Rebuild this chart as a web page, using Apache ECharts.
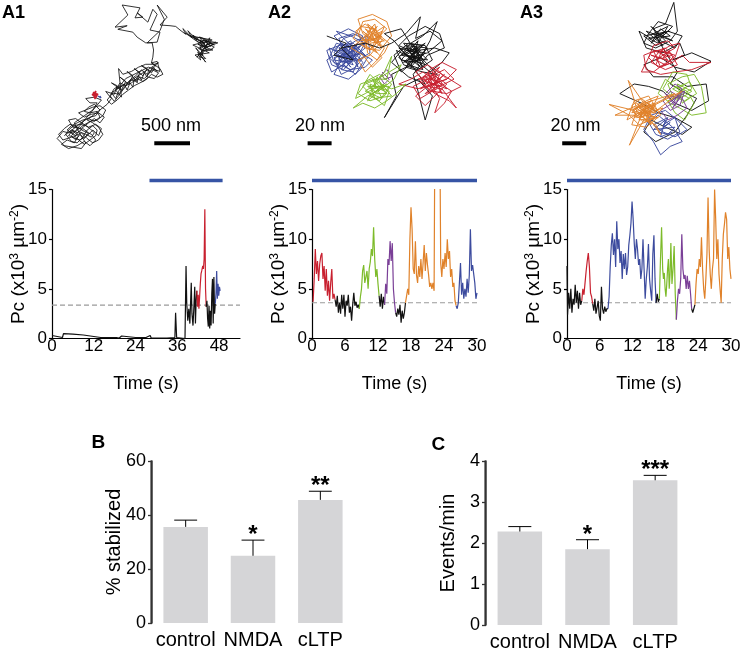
<!DOCTYPE html>
<html><head><meta charset="utf-8">
<script src="https://cdn.jsdelivr.net/npm/echarts@6.0.0/dist/echarts.min.js"></script>
<style>html,body{margin:0;padding:0;background:#fff}#c{width:743px;height:649px}</style>
</head><body><div id="c"></div>
<script>
// ================= DATA =================
// ---- A1 trajectory, positions in nm ----
const a1TrajBlack = [[900,1900],[1000,1820],[1100,1900],[1040,2000],[940,1960],[860,2020],[960,2080],[1080,2040],[1180,1980],[1260,2040],[1340,1960],[1280,1880],[1180,1840],[1080,1780],[980,1740],[900,1800],[820,1880],[880,1960],[1000,1920],[1120,1960],[1220,1900],[1300,1820],[1380,1900],[1420,1800],[1340,1740],[1240,1780],[1140,1720],[1060,1660],[960,1680],[1020,1780],[1140,1800],[1240,1720],[1320,1660],[1400,1720],[1460,1640],[1380,1580],[1280,1600],[1180,1640],[1100,1580],[1200,1540],[1300,1500],[1400,1480],[1480,1540],[1440,1620],[1360,1680],[1260,1700],[1160,1760],[1060,1840],[960,1860],[880,1840],[800,1940],[900,2040],[1020,2060],[1140,2080],[1200,2000],[1120,1880],[1040,1720],[1180,1620],[1300,1540],[1360,1440],[1260,1440],[1200,1380],[1320,1360],[1420,1400],
[1000,1900],[1060,1960],[1120,1880],[1180,1940],[1240,1860],[1160,1800],[1080,1860],[1020,1820],[960,1900],[1040,1920],[1100,1840],[1200,1880],[1280,1920],[1320,1860],[1260,1800],[1200,1760],[1120,1740],[1040,1760],[980,1800],[920,1880],[1000,1980],[1080,2000],[1160,1920],[1220,1820],[1300,1760],[1360,1820],[1340,1900],[1260,1960],[1180,2020],[1100,1960],[1020,1880],[940,1820],[1000,1760],[1080,1720],[1160,1680],[1240,1660],[1320,1700],[1400,1640],[1360,1560],[1260,1580],[1180,1560],[1240,1500],[1320,1460],[1400,1540],[1340,1620],[1260,1640],[1160,1700],[1060,1780],[980,1840],[1060,1900],[1140,1860],[1220,1940],[1300,2000],[1380,1960],[1440,1880],[1380,1780],[1300,1720],[1220,1680],[1500,1460],
[1560,1380],[1480,1280],[1600,1320],[1640,1200],[1560,1160],[1700,1260],[1760,1140],[1680,1080],[1800,1180],[1860,1060],[1780,1000],[1900,1120],[1960,1020],[1880,960],[2000,1060],[2060,960],[1980,920],[2100,1000],[2180,920],[2120,880],[2240,960],[2280,1040],[2200,1080],[2120,1040],[2040,1120],[1960,1160],[1880,1200],[1800,1260],[1720,1320],[1640,1400],[1560,1460],[1500,1400],[1580,1300],[1660,1320],[1740,1220],[1820,1120],[1900,1060],[1980,980],[2060,1040],[2140,980],[2220,1020],[2160,1100],[2080,1080],[2000,1140],[1920,1100],[1840,1160],[1760,1200],[1680,1160],[1620,1260],[1700,1360],[1660,960],[1720,1040],[1840,1000],[1940,940],[2040,900],[2160,900],[2220,880],
[1560,1300],[1620,1380],[1660,1280],[1700,1200],[1640,1240],[1740,1180],[1780,1260],[1820,1160],[1860,1220],[1880,1100],[1920,1160],[1940,1060],[1980,1120],[2020,1020],[2060,1080],[2080,980],[2120,1020],[2160,960],[2200,1000],[2140,940],[2080,1040],[2020,1100],[1960,1080],[1900,1140],[1840,1120],[1780,1180],[1720,1260],[1660,1340],[1600,1420],[1540,1340],[1600,1240],[1680,1200],[1760,1100],[1840,1060],[1920,1020],[2000,980],[2080,940],[2180,980],[2240,1000],
[2200,860],[2120,880],[2140,800],[2150,700],[2130,600],
[2040,600],[1920,520],[1860,450],[1650,410],[1780,360],[1610,380],[1790,210],[1710,70],[1960,110],[1890,250],[2000,240],[1920,180],[2070,310],[2140,130],[2200,200],[2100,420],[2240,450],[2200,590],[2060,600],[2240,430],[2300,270],[2200,70],[2340,240],[2240,350],[2380,360],[2460,370],
[2520,420],[2600,480],[2560,400],[2690,530],[2630,430],[2760,560],[2700,490],[2870,620],[2790,520],[3000,630],[2880,570],[3050,600],[2870,670],[2940,530],[2800,640],[2840,780],[2740,670],[2880,870],[2770,730],[2810,840],[2730,770],[2930,740],[2700,630],[2970,560],[2660,500],[2830,590],[2590,460],[2730,560],[2910,660],[2770,620],[2980,700],[2840,710],[2760,800],[2900,620],[3020,590],[2940,650],[2860,560],[2800,600],[2900,700],[2820,660],[2960,600],[2880,640],
[2800,560],[2860,600],[2920,580],[2980,620],[2900,660],[2840,640],[2780,680],[2860,720],[2820,760],[2880,820],[2800,800],[2860,680],[2940,700],[3000,660],[2920,620],[2860,560],[2780,600],[2720,540],[2800,520],[2900,560]];
const a1TrajRed = [[1302,1288],[1358,1344],[1316,1372],[1344,1274],[1288,1330],[1372,1316],[1330,1386],[1302,1302],[1358,1358],[1330,1302],[1310,1350],[1350,1300]];
const a1TrajBlue = [[1372,1344],[1400,1358],[1386,1330],[1414,1372],[1400,1344]];
const a1ScaleBar = [[2160,2006],[2660,2006]]; // 500 nm

// ---- A2 trajectory, positions in nm ----
const a2TrajBlue = [[80,45],[92,38],[84,52],[70,44],[78,32],[90,28],[96,40],[86,48],[74,56],[66,48],[72,36],[84,40],[94,52],[88,62],[78,54],[68,60],[64,50],[76,42],[88,34],[98,30],[100,44],[90,50],[80,40],[70,30],[82,24],[94,30],[86,42],[76,50],[70,62],[82,66],[92,58],[98,48],[88,42],[78,46],[66,40],[70,52],[84,58],[96,56],[102,50],[92,44],[80,34],[72,26],[84,30],[96,36],[90,46],[78,58],[68,54],[64,42],[74,38],[86,36],[96,46],[88,56],[76,62],[70,48],[82,44],[90,40],[98,34],[86,28],[74,32],[80,48],
[76,44],[84,38],[80,50],[88,46],[78,40],[86,54],[74,50],[82,36],[90,42],[80,56],[72,46],[84,48],[92,50],[78,52],[86,40],[76,36],[70,42],[82,42],[90,56],[84,34],[74,40],[88,50],[80,44],[72,54],[86,46],[94,44],[78,48],[84,56],[76,46],[88,38],[82,52],[70,50],[80,38],[92,46],[86,60],[76,58],[82,46],[90,36],[74,48],[84,44]];
const a2TrajOrange = [[100,30],[112,22],[106,36],[94,28],[90,16],[102,12],[114,18],[118,30],[108,42],[96,40],[86,32],[92,22],[104,24],[110,34],[100,46],[90,50],[96,60],[104,52],[112,44],[116,36],[106,28],[96,20],[88,26],[98,36],[108,30],[114,24],[104,16],[94,18],[90,30],[100,38],[110,48],[102,56],[94,46],[84,40],[92,34],[104,32],[112,40],[106,50],[98,44],[96,30],
[100,28],[106,22],[98,34],[110,30],[102,40],[94,32],[104,20],[108,38],[96,24],[112,34],[100,36],[106,44],[96,38],[102,26],[110,40],[94,26],[104,34],[98,20],[108,28],[100,42],[92,36],[106,32],[102,22],[96,34],[110,26],[104,38]];
const a2TrajBlack = [[64,30],[80,36],[70,46],[86,50],[76,40],[96,36],[108,40],[118,36],[130,28],[142,14],[138,32],[150,26],[160,34],[148,44],[134,48],[122,42],[128,54],[140,58],[152,50],[146,38],[132,36],[120,46],[126,60],[138,50],[150,60],[160,52],[166,44],[154,40],[140,42],[128,40],[118,52],[132,64],[146,70],[136,56],[124,48],[134,36],[144,30],[156,18],[150,34],[142,48],[130,46],[120,34],[112,28],[126,24],[136,40],[148,54],[156,62],[144,60],[130,56],[118,62],[122,80],[112,98],[128,72],[140,66],[152,80],[146,100],[140,76],[136,62],[148,46],[162,40],[158,28],[146,22],[132,30],[124,38],[138,44],
[134,46],[140,40],[130,52],[144,50],[136,38],[128,44],[142,56],[132,42],[146,44],[138,52],[126,50],[140,34],[134,56],[148,40],[130,38],[142,46],[136,50],[124,40],[138,44],[146,54],[132,48],[140,52],[128,36],[144,38],[136,46],[130,56],[142,42],[134,36],[148,50],[126,46],[138,40],[144,58],[132,54],[140,46],[128,52],[146,36],[136,42],[130,46],[142,50],[134,44]];
const a2TrajPurple = [[110,60],[116,66],[112,70],[108,64],[114,58],[118,64],[112,66],[110,62]];
const a2TrajRed = [[150,64],[162,58],[170,66],[158,72],[146,68],[138,60],[148,54],[160,62],[176,72],[164,78],[152,76],[142,82],[136,72],[148,66],[158,82],[154,94],[162,86],[168,76],[156,68],[144,60],[134,66],[124,70],[140,74],[152,70],[164,66],[172,58],[160,52],[150,58],[142,68],[154,78],[166,84],[172,90],[160,74],[148,72],[138,80],[146,88],[156,78],[164,70],[152,62],[140,66],
[150,66],[158,62],[154,72],[146,64],[160,70],[150,76],[144,70],[156,58],[164,66],[152,70],[148,60],[160,78],[154,64],[142,74],[158,68],[150,72],[162,62],[146,78],[156,74],[152,60],[164,74],[148,68],[158,56],[144,64],[154,78]];
const a2TrajGreen = [[104,76],[96,68],[108,62],[118,70],[112,80],[100,84],[90,78],[96,70],[106,66],[116,60],[126,54],[120,66],[110,74],[98,80],[86,90],[94,86],[104,90],[114,84],[122,78],[130,70],[118,74],[108,70],[100,62],[94,72],[102,80],[112,88],[116,76],[106,72],[96,78],[88,82],[92,70],[104,66],[114,66],[118,47],[112,60],[104,70],
[104,74],[112,70],[100,80],[108,84],[116,72],[98,72],[106,78],[114,78],[102,66],[110,82],[96,76],[108,68],[118,80],[104,82],[100,70],[112,76],[106,64],[98,84],[114,70],[102,78]];
const a2ScaleBar = [[48,119.4],[68,119.4]]; // 20 nm

// ---- A3 trajectory, positions in nm ----
const a3TrajBlack = [[140,30],[148,22],[136,18],[128,28],[124,36],[134,40],[146,34],[152,26],[149,2],[142,20],[132,24],[138,34],[150,40],[156,30],[144,26],[130,32],[120,26],[126,40],[140,44],[154,36],[158,46],[148,50],[164,44],[180,51],[166,60],[150,56],[138,48],[124,54],[132,64],[148,64],[160,72],[176,70],[178,84],[164,92],[150,86],[140,76],[128,72],[116,70],[104,78],[122,86],[136,94],[150,98],[164,106],[156,112],[142,106],[130,100],[124,110],[134,118],[150,110],[160,96],[168,82],[156,76],[146,70],[152,60],
[134,30],[142,26],[130,36],[138,24],[146,30],[128,32],[136,36],[144,22],[132,28],[140,38],[126,26],[148,34],[136,28],[130,22],[142,34],[134,38],[124,30],[146,26]];
const a3TrajRed = [[140,46],[150,40],[144,34],[132,38],[128,48],[136,56],[148,52],[156,46],[162,52],[180,52],[164,58],[150,60],[138,62],[126,58],[124,46],[134,42],[146,44],[152,54],[142,58],[130,52],[136,44],[146,38],[154,36],[150,48],[140,54],[132,60],[122,60],[130,44],[142,40],[148,46],
[140,48],[146,42],[134,50],[142,54],[150,46],[136,42],[144,50],[130,46],[148,52],[138,56],[132,42],[146,48],[140,40],[134,54]];
const a3TrajGreen = [[152,74],[162,68],[168,78],[158,84],[148,80],[144,70],[156,64],[166,62],[172,72],[176,94],[164,96],[154,90],[146,86],[136,78],[142,66],[150,72],[160,76],[166,86],[158,100],[150,94],[144,84],[154,80],[164,74],[160,62],[148,60],[140,74],[152,84],
[154,76],[160,72],[150,82],[158,80],[164,76],[152,70],[156,86],[162,82],[148,74],[158,70]];
const a3TrajPurple = [[150,80],[158,76],[154,88],[146,92],[140,84],[146,76],[156,82],[160,90],[152,96],[144,100],[138,92],[148,86],[156,74],[150,70],[142,78],[150,88],
[150,84],[146,80],[154,82],[148,90],[156,78],[144,86]];
const a3TrajBlue = [[140,104],[150,98],[154,110],[144,116],[134,112],[128,102],[136,96],[148,106],[156,118],[146,122],[138,129],[132,118],[124,108],[130,96],[142,92],[152,100],[160,108],[150,114],[140,110],[132,104],[144,98],
[140,106],[146,102],[136,110],[144,112],[150,106],[132,108],[142,100],[138,114],[148,110]];
const a3TrajOrange = [[124,90],[132,86],[128,96],[118,98],[114,88],[122,82],[134,92],[140,90],[130,100],[120,104],[112,96],[95,87],[116,92],[126,84],[136,80],[130,92],[122,96],[112,121],[124,100],[134,104],[138,112],[128,98],[118,90],[111,67],[124,86],[150,78],[130,88],[120,94],[110,100],[116,84],[128,80],[138,96],[126,106],[114,104],[120,86],[132,94],[156,76],[128,90],[116,96],[100,96],[118,88],[126,94],[134,98],[124,102],[114,92],[122,88],[130,84],[120,98],[126,90],
[124,92],[130,96],[120,90],[128,86],[134,94],[118,94],[126,100],[132,90],[122,86],[128,102],[116,90],[130,88],[124,96],[136,98],[120,100],[126,88],[132,100],[118,86],[128,94],[122,98],[134,88],[116,98],[126,92],[130,104],[120,94],[136,92],[124,84],[114,94],[128,90],[122,92]];
const a3ScaleBar = [[56,119.4],[76,119.4]]; // 20 nm

// ---- Time series: [time (s), Pc (x10^3 µm^-2)] ----
const a1TsBlack1 = [[0,0.3],[0.5,0.1],[3,0.1],[3.3,0.5],[6,0.45],[9,0.35],[12,0.2],[14,0.1],[15.5,0.1],[16,0.3],[16.5,0.1],[18.5,0.1],[19,0.3],[19.3,0.05],[20,0.25],[20.4,0.05],[24,0.1],[27,0.1],[28.2,0.3],[28.5,0.05],[33,0.05],[35.3,0.1],[35.5,2.6],[35.8,0.1],[36,0],[38.2,0],[38.5,7.3],[38.7,3.6],[39,1.8],[39.3,3],[39.6,1.5],[40,5.6],[40.2,2.5],[40.5,1.3],[40.8,3.5],[41,5.2],[41.2,1.5],[41.4,3.8],[41.6,4.8]];
const a1TsRed = [[41.6,4.8],[41.8,3.2],[42,4.4],[42.2,3],[42.4,4.2],[42.6,5.5],[42.8,6.5],[43,6.8],[43.3,7.3],[43.5,7],[43.7,8],[43.9,13],[44.1,5],[44.3,3.2]];
const a1TsBlack2 = [[44.3,3.2],[44.5,3.8],[44.7,2],[44.9,1.2],[45.1,3.3],[45.3,1],[45.5,2.8],[45.7,1.3],[45.9,4.5],[46.1,6],[46.3,1.5],[46.5,6.2],[46.7,2.5],[46.9,3.5]];
const a1TsBlue = [[46.9,3.5],[47.1,4.5],[47.3,6.8],[47.5,4],[47.7,5.5],[47.9,4.3],[48.1,5.2],[48.3,4.8]];
const a1Period = [28, 49];
const a1Threshold = 3.35;

const a2TsRed = [[0.2,3.7],[0.4,6],[0.6,9],[0.8,6.5],[1,7.8],[1.2,5.8],[1.4,7.5],[1.6,8.3],[1.8,8.6],[2,6],[2.2,7.3],[2.4,4.8],[2.6,7],[2.8,4.3],[3,5.8],[3.2,3.8],[3.4,5.6],[3.6,7],[3.8,4],[4,4.5],[4.2,3.9]];
const a2TsBlack1 = [[4.2,3.9],[4.4,3.2],[4.6,4.3],[4.8,2.6],[5,3.6],[5.2,2.5],[5.4,4.4],[5.6,3],[5.8,4.4],[6,2.2],[6.2,3.8],[6.4,3.3],[6.6,4.4],[6.8,2.6],[7,3.2],[7.2,1.8],[7.4,3.4],[7.6,4.6],[7.8,3.3],[8,3.7],[8.2,3.1],[8.4,3.4],[8.6,3]];
const a2TsGreen = [[8.6,3],[8.8,4.2],[9,5],[9.2,6.8],[9.4,7.4],[9.6,5.6],[9.8,6.2],[10,6.8],[10.2,5],[10.4,7],[10.6,7.7],[10.8,9],[11,8.3],[11.2,11.2],[11.4,8],[11.6,6.2],[11.8,7],[12,5.5],[12.2,4.3]];
const a2TsBlack2 = [[12.2,4.3],[12.4,3.2],[12.6,4.5],[12.8,3],[13,4.2],[13.2,3.4]];
const a2TsPurple = [[13.2,3.4],[13.4,5.5],[13.6,4.5],[13.8,8],[14,7.4],[14.2,9.8],[14.4,7.8],[14.6,9.6],[14.8,5],[15,3.6],[15.2,2.6]];
const a2TsBlack3 = [[15.2,2.6],[15.4,2.2],[15.6,3],[15.8,2.4],[16,3.4],[16.2,1.6],[16.4,2.8],[16.6,2],[16.8,2.6],[17,3.6]];
const a2TsOrange = [[17,3.6],[17.2,4.3],[17.4,5],[17.6,4.4],[17.8,10],[18,13.2],[18.2,11],[18.4,7],[18.6,6.5],[18.8,9.8],[19,6.4],[19.2,5.6],[19.4,7.3],[19.6,6.2],[19.8,8],[20,6],[20.2,7.6],[20.4,9.4],[20.6,6.8],[20.8,8.6],[21,7.4],[21.2,6.4],[21.4,5.2],[21.6,5.6],[21.8,5],[22,5.6],[22.2,4.8],[22.3,16.5],[22.8,17],[23.3,16],[23.4,7.6],[23.6,6.2],[23.8,8],[24,7],[24.2,8.6],[24.4,7.2],[24.6,10],[24.8,8],[25,8.8],[25.2,6.2],[25.4,7],[25.6,5.2],[25.8,5.6],[26,3.8],[26.2,3.3]];
const a2TsBlue = [[26.2,3.3],[26.4,3],[26.6,3.6],[26.8,5.6],[27,7.6],[27.2,4.4],[27.4,5.6],[27.6,4],[27.8,5],[28,4.2],[28.2,6],[28.4,4.6],[28.6,6.4],[28.8,11],[29,6.8],[29.2,7.4],[29.6,5.6],[29.8,4],[30,4.6]];
const a2Period = [0, 30];
const a2Threshold = 3.6;

const a3TsBlack1 = [[0,7.3],[0.1,2.4],[0.3,4.6],[0.5,3],[0.7,5],[0.9,2.6],[1.1,4],[1.3,3.4],[1.5,5.4],[1.7,3.6],[1.9,4.8],[2.1,3],[2.3,4.6],[2.5,3.4],[2.7,3.8]];
const a3TsRed = [[2.7,3.8],[2.9,5],[3.1,4.4],[3.3,5.6],[3.5,6.8],[3.7,7.8],[3.9,8.6],[4.1,7.2],[4.3,4.6],[4.5,4.2],[4.7,3.5]];
const a3TsBlack2 = [[4.7,3.5],[4.9,2.8],[5.1,4],[5.3,2.5],[5.5,3.1],[5.7,3.8],[5.9,2.3],[6.1,1.8],[6.3,5.2],[6.5,3],[6.7,2.5],[6.9,3.2],[7.1,2.7],[7.3,3],[7.5,3]];
const a3TsBlue = [[7.5,3],[7.7,4.2],[7.9,7.2],[8.1,9.4],[8.3,10.6],[8.5,8.4],[8.7,10],[8.9,7.2],[9.1,11.8],[9.3,9],[9.5,10],[9.7,7.6],[9.9,8.8],[10.1,6],[10.3,8.5],[10.5,7],[10.7,8.6],[10.9,6.4],[11.1,7.2],[11.3,9.4],[11.5,10.4],[11.7,11.6],[11.9,13.8],[12.1,12],[12.3,9.6],[12.5,8],[12.7,10],[12.9,9],[13.1,7.4],[13.3,8],[13.5,6],[13.7,7],[13.9,10],[14.1,7],[14.3,4],[14.5,6],[14.7,7.2],[14.9,9.5],[15.1,6],[15.3,4.8],[15.5,3.8],[15.7,8.5],[15.9,10.4],[16.1,6],[16.3,3.6]];
const a3TsBlack3 = [[16.3,3.6],[16.5,4.5],[16.7,3.7],[16.9,4]];
const a3TsGreen = [[16.9,4],[17.1,8],[17.3,11.2],[17.5,7],[17.65,6],[17.8,6.6],[17.95,5],[18.1,4.2],[18.25,5.5],[18.4,7],[18.55,8],[18.7,5],[18.85,6.5],[19,9.6],[19.2,5.5],[19.4,7],[19.6,9.3],[19.8,4.5],[20,1.9]];
const a3TsPurple = [[20,1.9],[20.2,3.8],[20.4,5],[20.6,4.5],[20.8,6],[21,10.5],[21.2,7],[21.4,6],[21.6,6.4],[21.8,5],[22,6.3],[22.2,5],[22.4,5.8],[22.6,4.5],[22.8,3]];
const a3TsBlack4 = [[22.8,3],[23,2.6],[23.2,2.8],[23.4,3.4]];
const a3TsOrange = [[23.4,3.4],[23.6,5.5],[23.8,7],[24,6.5],[24.2,8],[24.4,7.2],[24.6,10.2],[24.8,7],[25,5],[25.2,4],[25.4,6],[25.6,8.5],[25.8,14.2],[26,9],[26.2,6.5],[26.4,5],[26.6,7],[26.8,8],[27,15],[27.2,12],[27.4,8],[27.6,10],[27.8,6.5],[28,5],[28.2,3.6],[28.4,8],[28.6,10.5],[28.8,11.5],[29,12.7],[29.2,12],[29.4,8],[29.6,9.2],[29.8,7],[30,6]];
const a3Period = [0, 30];
const a3Threshold = 3.6;

const a1TimeTicks = [0, 12, 24, 36, 48];

// ---- Bar charts ----
const barCategories = ['control', 'NMDA', 'cLTP'];
const stabilizedMean = [35.6, 24.9, 45.6];
const stabilizedSem = [2.5, 5.8, 3.2];
const stabilizedStars = ['', '*', '**'];
const eventsMean = [2.28, 1.85, 3.53];
const eventsSem = [0.12, 0.23, 0.12];
const eventsStars = ['', '*', '***'];

// ================= STYLE / LAYOUT =================
const FONT = '"Liberation Sans", Arial, Helvetica, sans-serif';
const C = {black:'#111111', red:'#c8202f', green:'#7dbb2a', orange:'#e0822a', blue:'#3c4b9e', purple:'#7a3f97', period:'#3654a5', dash:'#9a9a9a', bar:'#d5d5d7'};
const PERIOD_Y = 15.9;
const txt = {fontFamily: FONT, color: '#000'};
// category slots on a continuous axis: slot i spans [i, i+1], bar centred at i + 0.5
const slotCentre = barCategories.map((c, i) => i + 0.5);

const chart = echarts.init(document.getElementById('c'));

const grids = [
  {left:0, top:0, width:250, height:170},
  {left:250, top:0, width:250, height:170},
  {left:495, top:0, width:248, height:170},
  {left:52, top:189.5, width:188, height:149},
  {left:312, top:189.5, width:165, height:149},
  {left:567, top:189.5, width:164, height:149},
  {left:152, top:461, width:202, height:162},
  {left:486, top:461, width:203, height:164}
].map(g => Object.assign({outerBoundsMode:'none', containLabel:false}, g));

function hiddenX(gi, max){ return {gridIndex:gi, type:'value', min:0, max, show:false}; }
function hiddenY(gi, max){ return {gridIndex:gi, type:'value', min:0, max, inverse:true, show:false}; }

const nameMain = 'Pc (x10{sup|3} µm{sup|-2})';
function tsX(gi, max, interval, custom){
  const lab = Object.assign({}, txt, {fontSize:17, margin:-1});
  if (custom) lab.customValues = custom;
  return {gridIndex:gi, type:'value', min:0, max, interval,
    axisLine:{show:true, onZero:false, lineStyle:{color:'#000', width:1.2}},
    axisTick:{show:false}, axisLabel:lab, splitLine:{show:false},
    name:'Time (s)', nameLocation:'middle', nameGap:37, nameMoveOverlap:false,
    nameTextStyle:Object.assign({}, txt, {fontSize:18})};
}
function tsY(gi){
  return {gridIndex:gi, type:'value', min:0, max:15, interval:5,
    axisLine:{show:true, onZero:false, lineStyle:{color:'#000', width:1.2}},
    axisTick:{show:true, length:3, lineStyle:{color:'#000', width:1.2}},
    axisLabel:Object.assign({}, txt, {fontSize:17, margin:5}), splitLine:{show:false},
    name:nameMain, nameLocation:'middle', nameGap:24, nameMoveOverlap:false,
    nameTextStyle:Object.assign({}, txt, {fontSize:19, rich:{sup:{fontSize:12, fontFamily:FONT, color:'#000', verticalAlign:'top'}}})};
}
function barX(gi){
  return {gridIndex:gi, type:'value', min:0, max:barCategories.length, interval:1,
    axisLine:{show:true, onZero:false, lineStyle:{color:'rgba(0,0,0,0)'}}, axisTick:{show:false}, splitLine:{show:false},
    axisLabel:Object.assign({}, txt, {fontSize:20, margin:7, customValues:slotCentre,
      formatter: v => barCategories[Math.floor(v)] || ''})};
}
function barY(gi, max, interval, name){
  return {gridIndex:gi, type:'value', min:0, max, interval,
    axisLine:{show:true, onZero:false, lineStyle:{color:'#333', width:1.5}},
    axisTick:{show:true, length:4, lineStyle:{color:'#333', width:1.3}},
    axisLabel:Object.assign({}, txt, {fontSize:18, margin:6}), splitLine:{show:false},
    name, nameLocation:'middle', nameGap:28, nameMoveOverlap:false,
    nameTextStyle:Object.assign({}, txt, {fontSize:20})};
}

const series = [];
function traj(gi, data, color, width){
  series.push({type:'line', xAxisIndex:gi, yAxisIndex:gi, data, showSymbol:false, symbol:'none',
    lineStyle:{color, width: width || 0.95}, silent:true, z:2});
}
function scale(gi, data){
  series.push({type:'line', xAxisIndex:gi, yAxisIndex:gi, data, symbol:'none', clip:false,
    lineStyle:{color:'#000', width:4, cap:'butt'}, silent:true, z:3});
}
function ts(gi, data, color){
  series.push({type:'line', xAxisIndex:gi, yAxisIndex:gi, data, symbol:'none', showSymbol:false,
    lineStyle:{color, width:1.2}, silent:true, z:3});
}
function period(gi, range){
  series.push({type:'line', xAxisIndex:gi, yAxisIndex:gi, data:[[range[0],PERIOD_Y],[range[1],PERIOD_Y]],
    symbol:'none', clip:false, lineStyle:{color:C.period, width:3.5, cap:'butt'}, silent:true, z:3});
}
function threshold(gi, v, xmax){
  series.push({type:'line', xAxisIndex:gi, yAxisIndex:gi, data:[[0,v],[xmax,v]], symbol:'none',
    lineStyle:{color:C.dash, width:1.2, type:[5,3]}, silent:true, z:2});
}

// A1 trajectory
traj(0, a1TrajBlack, C.black, 0.85); traj(0, a1TrajRed, C.red, 1.3); traj(0, a1TrajBlue, C.blue, 1.3); scale(0, a1ScaleBar);
// A2 trajectory
traj(1, a2TrajBlue, C.blue); traj(1, a2TrajOrange, C.orange); traj(1, a2TrajBlack, C.black);
traj(1, a2TrajPurple, C.purple); traj(1, a2TrajRed, C.red); traj(1, a2TrajGreen, C.green); scale(1, a2ScaleBar);
// A3 trajectory
traj(2, a3TrajBlack, C.black); traj(2, a3TrajRed, C.red); traj(2, a3TrajGreen, C.green);
traj(2, a3TrajPurple, C.purple); traj(2, a3TrajBlue, C.blue); traj(2, a3TrajOrange, C.orange); scale(2, a3ScaleBar);

// time series
threshold(3, a1Threshold, 54); period(3, a1Period);
ts(3, a1TsBlack1, C.black); ts(3, a1TsRed, C.red); ts(3, a1TsBlack2, C.black); ts(3, a1TsBlue, C.blue);
threshold(4, a2Threshold, 30); period(4, a2Period);
ts(4, a2TsRed, C.red); ts(4, a2TsBlack1, C.black); ts(4, a2TsGreen, C.green); ts(4, a2TsBlack2, C.black);
ts(4, a2TsPurple, C.purple); ts(4, a2TsBlack3, C.black); ts(4, a2TsOrange, C.orange); ts(4, a2TsBlue, C.blue);
threshold(5, a3Threshold, 30); period(5, a3Period);
ts(5, a3TsBlack1, C.black); ts(5, a3TsRed, C.red); ts(5, a3TsBlack2, C.black); ts(5, a3TsBlue, C.blue);
ts(5, a3TsBlack3, C.black); ts(5, a3TsGreen, C.green); ts(5, a3TsPurple, C.purple); ts(5, a3TsBlack4, C.black); ts(5, a3TsOrange, C.orange);

// bars
function bars(gi, means, sems, stars, yMax){
  series.push({type:'bar', xAxisIndex:gi, yAxisIndex:gi, data:means.map((m,i)=>[slotCentre[i], m]), barWidth:44.5,
    itemStyle:{color:C.bar}, silent:true, z:2});
  series.push({type:'custom', xAxisIndex:gi, yAxisIndex:gi, silent:true, z:10, clip:false,
    data: means.map((m,i)=>[slotCentre[i], m, sems[i]]), encode:{x:0, y:1},
    renderItem: function(params, api){
      const x = api.value(0), v = api.value(1), e = api.value(2);
      const b = api.coord([x, v]), t = api.coord([x, v + e]);
      const half = api.size([1, 0])[0] * 0.17;
      const ls = {stroke:'#000', lineWidth:1};
      const ch = [
        {type:'line', shape:{x1:b[0], y1:b[1], x2:t[0], y2:t[1]}, style:ls},
        {type:'line', shape:{x1:t[0]-half, y1:t[1], x2:t[0]+half, y2:t[1]}, style:ls}
      ];
      if (params.dataIndex === 0) {
        // value-axis spine, drawn just outside the plotting area
        const p0 = api.coord([0, 0]), p1 = api.coord([0, yMax]);
        ch.push({type:'line', z2:100, shape:{x1:p0[0]-0.8, y1:p0[1]+0.5, x2:p1[0]-0.8, y2:p1[1]-0.5},
          style:{stroke:'#333', lineWidth:1.6}});
      }
      const s = stars[params.dataIndex];
      if (s) ch.push({type:'text', style:{text:s, x:t[0], y:t[1]-4.5, align:'center', verticalAlign:'middle',
        font:'bold 24px ' + FONT, fill:'#000'}});
      return {type:'group', children:ch};
    }});
}
bars(6, stabilizedMean, stabilizedSem, stabilizedStars, 60);
bars(7, eventsMean, eventsSem, eventsStars, 4);

function label(text, left, top, size){
  return {type:'text', left, top, silent:true, style:{text, font:'bold ' + size + 'px ' + FONT, fill:'#000'}};
}
function ctext(text, x, y){
  return {type:'text', x, y, silent:true, style:{text, font:'18px ' + FONT, fill:'#000', align:'center', verticalAlign:'middle'}};
}

chart.setOption({
  animation:false,
  textStyle:{fontFamily:FONT},
  grid:grids,
  xAxis:[hiddenX(0,3500), hiddenX(1,208.33), hiddenX(2,206.67),
    tsX(3,54,12,a1TimeTicks), tsX(4,30,6), tsX(5,30,6), barX(6), barX(7)],
  yAxis:[hiddenY(0,2380), hiddenY(1,141.67), hiddenY(2,141.67),
    tsY(3), tsY(4), tsY(5), barY(6,60,20,'% stabilized'), barY(7,4,1,'Events/min')],
  series,
  graphic:[
    label('A1', 2, 4, 18), label('A2', 268, 4, 18), label('A3', 520, 4, 18),
    label('B', 91.5, 433, 19), label('C', 431.5, 435, 19),
    ctext('500 nm', 171, 126), ctext('20 nm', 320, 126), ctext('20 nm', 575.5, 126)
  ]
});
</script></body></html>
